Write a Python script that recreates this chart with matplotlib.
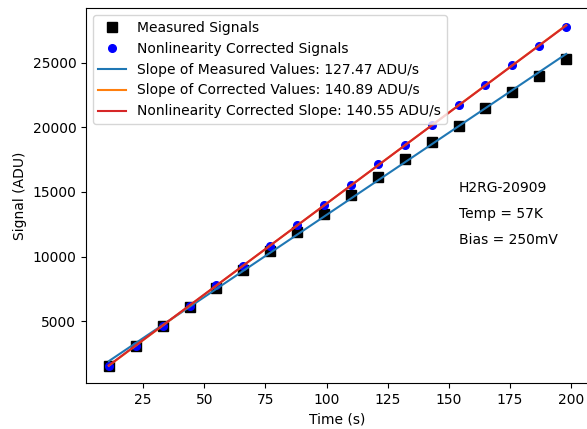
import numpy as np
import matplotlib
matplotlib.use("Agg")
import matplotlib.pyplot as plt

# exposure times (s)
time_s = [11, 22, 33, 44, 55, 66, 77, 88, 99, 110, 121, 132, 143, 154, 165, 176, 187, 198]
# measured signal (ADU)
measured = [1560, 3060, 4600, 6100, 7560, 8990, 10400, 11870, 13310, 14780,
            16190, 17530, 18840, 20120, 21470, 22750, 23980, 25270]
# nonlinearity corrected signal (ADU)
corrected = [1540, 3080, 4650, 6180, 7780, 9300, 10840, 12440, 14010, 15560,
             17130, 18660, 20180, 21720, 23260, 24800, 26300, 27790]

slope_labels = ["Slope of Measured Values: 127.47 ADU/s",
                "Slope of Corrected Values: 140.89 ADU/s",
                "Nonlinearity Corrected Slope: 140.55 ADU/s"]
nl_slope = 140.55
info_lines = ["H2RG-20909", "Temp = 57K", "Bias = 250mV"]

t = np.array(time_s, dtype=float)
m = np.array(measured, dtype=float)
c = np.array(corrected, dtype=float)

fig = plt.figure(figsize=(5.87, 4.29), dpi=100)
ax = fig.add_axes([0.1465, 0.107, 0.857, 0.874])

ax.plot(t, m, 'ks', ms=7, label="Measured Signals")
ax.plot(t, c, 'bo', ms=5.5, label="Nonlinearity Corrected Signals")

pm = np.polyfit(t, m, 1)
pc = np.polyfit(t, c, 1)
ax.plot(t, np.polyval(pm, t), color='#1f77b4', label=slope_labels[0])
ax.plot(t, np.polyval(pc, t), color='#ff7f0e', label=slope_labels[1])
# nonlinearity corrected slope through the centroid of the corrected data
b_nl = c.mean() - nl_slope * t.mean()
ax.plot(t, nl_slope * t + b_nl, color='#d62728', label=slope_labels[2])

for y, s in zip([15000, 13000, 11000], info_lines):
    ax.text(154, y, s, fontsize=10)

ax.set_xlabel("Time (s)")
ax.set_ylabel("Signal (ADU)")
ax.legend(loc="upper left")

fig.savefig("out.png", dpi=100)
